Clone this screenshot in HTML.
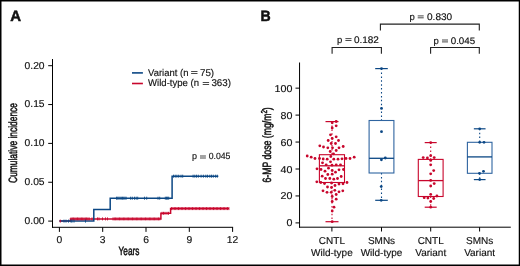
<!DOCTYPE html>
<html><head><meta charset="utf-8"><style>
html,body{margin:0;padding:0;background:#fff;}
body{width:520px;height:266px;overflow:hidden;}
svg{display:block;will-change:transform;font-family:"Liberation Sans", sans-serif;}
text{fill:#111111;stroke:#111111;stroke-width:0.15px;text-rendering:geometricPrecision;}
</style></head><body>
<svg width="520" height="266" viewBox="0 0 520 266">
<rect x="0" y="0" width="520" height="266" fill="#fff"/>
<text transform="translate(10.20 20.70)" font-size="15.00" text-anchor="start" font-weight="bold" style="stroke-width:0.50px">A</text>
<line x1="52.50" y1="59.00" x2="52.50" y2="227.80" stroke="#000" stroke-width="1.00"/>
<line x1="52.00" y1="227.30" x2="233.10" y2="227.30" stroke="#000" stroke-width="1.00"/>
<line x1="48.20" y1="65.70" x2="52.50" y2="65.70" stroke="#000" stroke-width="1.00"/>
<text transform="translate(44.60 68.50) scale(1.030 1)" font-size="10.00" text-anchor="end">0.20</text>
<line x1="48.20" y1="104.55" x2="52.50" y2="104.55" stroke="#000" stroke-width="1.00"/>
<text transform="translate(44.60 107.35) scale(1.030 1)" font-size="10.00" text-anchor="end">0.15</text>
<line x1="48.20" y1="143.40" x2="52.50" y2="143.40" stroke="#000" stroke-width="1.00"/>
<text transform="translate(44.60 146.20) scale(1.030 1)" font-size="10.00" text-anchor="end">0.10</text>
<line x1="48.20" y1="182.25" x2="52.50" y2="182.25" stroke="#000" stroke-width="1.00"/>
<text transform="translate(44.60 185.05) scale(1.030 1)" font-size="10.00" text-anchor="end">0.05</text>
<line x1="48.20" y1="221.10" x2="52.50" y2="221.10" stroke="#000" stroke-width="1.00"/>
<text transform="translate(44.60 223.90) scale(1.030 1)" font-size="10.00" text-anchor="end">0.00</text>
<line x1="59.40" y1="227.30" x2="59.40" y2="231.90" stroke="#000" stroke-width="1.00"/>
<text transform="translate(59.40 242.80) scale(1.030 1)" font-size="10.00" text-anchor="middle">0</text>
<line x1="102.70" y1="227.30" x2="102.70" y2="231.90" stroke="#000" stroke-width="1.00"/>
<text transform="translate(102.70 242.80) scale(1.030 1)" font-size="10.00" text-anchor="middle">3</text>
<line x1="146.00" y1="227.30" x2="146.00" y2="231.90" stroke="#000" stroke-width="1.00"/>
<text transform="translate(146.00 242.80) scale(1.030 1)" font-size="10.00" text-anchor="middle">6</text>
<line x1="189.30" y1="227.30" x2="189.30" y2="231.90" stroke="#000" stroke-width="1.00"/>
<text transform="translate(189.30 242.80) scale(1.030 1)" font-size="10.00" text-anchor="middle">9</text>
<line x1="232.60" y1="227.30" x2="232.60" y2="231.90" stroke="#000" stroke-width="1.00"/>
<text transform="translate(232.60 242.80) scale(1.030 1)" font-size="10.00" text-anchor="middle">12</text>
<text transform="translate(129.00 255.20) scale(0.690 1)" font-size="12.00" text-anchor="middle" style="stroke-width:0.50px">Years</text>
<text transform="translate(17.40 143.00) rotate(-90) scale(0.700 1)" font-size="12.00" text-anchor="middle" style="stroke-width:0.50px">Cumulative incidence</text>
<line x1="132.00" y1="72.90" x2="142.90" y2="72.90" stroke="#0b4784" stroke-width="1.60"/>
<line x1="132.00" y1="83.50" x2="142.90" y2="83.50" stroke="#c8062c" stroke-width="1.60"/>
<text transform="translate(148.10 75.60) scale(0.965 1)" font-size="9.80" text-anchor="start">Variant (n</text>
<rect x="191.10" y="71.00" width="6.40" height="1.00" fill="#4a4a4a"/>
<rect x="191.10" y="73.00" width="6.40" height="1.00" fill="#4a4a4a"/>
<text transform="translate(214.10 75.60)" font-size="9.80" text-anchor="end">75)</text>
<text transform="translate(148.10 86.00) scale(0.975 1)" font-size="9.80" text-anchor="start">Wild-type (n</text>
<rect x="202.70" y="82.00" width="6.40" height="1.00" fill="#4a4a4a"/>
<rect x="202.70" y="84.00" width="6.40" height="1.00" fill="#4a4a4a"/>
<text transform="translate(231.00 86.00)" font-size="9.80" text-anchor="end">363)</text>
<text transform="translate(191.90 159.40)" font-size="9.00" text-anchor="start">p</text>
<rect x="200.00" y="155.50" width="5.90" height="1.00" fill="#4a4a4a"/>
<rect x="200.00" y="157.50" width="5.90" height="1.00" fill="#4a4a4a"/>
<text transform="translate(230.40 159.40) scale(0.965 1)" font-size="9.00" text-anchor="end">0.045</text>
<polyline fill="none" stroke="#c8062c" stroke-width="1.5" points="59.4,221.1 70.5,221.1 70.5,218.9 160.9,218.9 160.9,213.3 170.6,213.3 170.6,208.6 229.0,208.6"/>
<polyline fill="none" stroke="#0b4784" stroke-width="1.5" points="59.4,221.1 93.8,221.1 93.8,209.5 110.2,209.5 110.2,198.2 172.1,198.2 172.1,176.2 218.3,176.2"/>
<line x1="60.30" y1="219.60" x2="60.30" y2="222.60" stroke="#c8062c" stroke-width="0.90"/>
<line x1="71.00" y1="217.40" x2="71.00" y2="220.40" stroke="#c8062c" stroke-width="0.90"/>
<line x1="72.30" y1="217.40" x2="72.30" y2="220.40" stroke="#c8062c" stroke-width="0.90"/>
<line x1="73.60" y1="217.40" x2="73.60" y2="220.40" stroke="#c8062c" stroke-width="0.90"/>
<line x1="74.90" y1="217.40" x2="74.90" y2="220.40" stroke="#c8062c" stroke-width="0.90"/>
<line x1="76.20" y1="217.40" x2="76.20" y2="220.40" stroke="#c8062c" stroke-width="0.90"/>
<line x1="77.50" y1="217.40" x2="77.50" y2="220.40" stroke="#c8062c" stroke-width="0.90"/>
<line x1="78.80" y1="217.40" x2="78.80" y2="220.40" stroke="#c8062c" stroke-width="0.90"/>
<line x1="80.10" y1="217.40" x2="80.10" y2="220.40" stroke="#c8062c" stroke-width="0.90"/>
<line x1="81.40" y1="217.40" x2="81.40" y2="220.40" stroke="#c8062c" stroke-width="0.90"/>
<line x1="82.70" y1="217.40" x2="82.70" y2="220.40" stroke="#c8062c" stroke-width="0.90"/>
<line x1="84.00" y1="217.40" x2="84.00" y2="220.40" stroke="#c8062c" stroke-width="0.90"/>
<line x1="85.30" y1="217.40" x2="85.30" y2="220.40" stroke="#c8062c" stroke-width="0.90"/>
<line x1="86.60" y1="217.40" x2="86.60" y2="220.40" stroke="#c8062c" stroke-width="0.90"/>
<line x1="87.90" y1="217.40" x2="87.90" y2="220.40" stroke="#c8062c" stroke-width="0.90"/>
<line x1="89.20" y1="217.40" x2="89.20" y2="220.40" stroke="#c8062c" stroke-width="0.90"/>
<line x1="92.00" y1="217.40" x2="92.00" y2="220.40" stroke="#c8062c" stroke-width="0.90"/>
<line x1="97.50" y1="217.40" x2="97.50" y2="220.40" stroke="#c8062c" stroke-width="0.90"/>
<line x1="99.00" y1="217.40" x2="99.00" y2="220.40" stroke="#c8062c" stroke-width="0.90"/>
<line x1="102.50" y1="217.40" x2="102.50" y2="220.40" stroke="#c8062c" stroke-width="0.90"/>
<line x1="105.50" y1="217.40" x2="105.50" y2="220.40" stroke="#c8062c" stroke-width="0.90"/>
<line x1="107.50" y1="217.40" x2="107.50" y2="220.40" stroke="#c8062c" stroke-width="0.90"/>
<line x1="113.00" y1="217.40" x2="113.00" y2="220.40" stroke="#c8062c" stroke-width="0.90"/>
<line x1="114.30" y1="217.40" x2="114.30" y2="220.40" stroke="#c8062c" stroke-width="0.90"/>
<line x1="115.60" y1="217.40" x2="115.60" y2="220.40" stroke="#c8062c" stroke-width="0.90"/>
<line x1="116.90" y1="217.40" x2="116.90" y2="220.40" stroke="#c8062c" stroke-width="0.90"/>
<line x1="118.20" y1="217.40" x2="118.20" y2="220.40" stroke="#c8062c" stroke-width="0.90"/>
<line x1="119.50" y1="217.40" x2="119.50" y2="220.40" stroke="#c8062c" stroke-width="0.90"/>
<line x1="120.80" y1="217.40" x2="120.80" y2="220.40" stroke="#c8062c" stroke-width="0.90"/>
<line x1="122.10" y1="217.40" x2="122.10" y2="220.40" stroke="#c8062c" stroke-width="0.90"/>
<line x1="123.40" y1="217.40" x2="123.40" y2="220.40" stroke="#c8062c" stroke-width="0.90"/>
<line x1="124.70" y1="217.40" x2="124.70" y2="220.40" stroke="#c8062c" stroke-width="0.90"/>
<line x1="126.00" y1="217.40" x2="126.00" y2="220.40" stroke="#c8062c" stroke-width="0.90"/>
<line x1="127.30" y1="217.40" x2="127.30" y2="220.40" stroke="#c8062c" stroke-width="0.90"/>
<line x1="128.60" y1="217.40" x2="128.60" y2="220.40" stroke="#c8062c" stroke-width="0.90"/>
<line x1="129.90" y1="217.40" x2="129.90" y2="220.40" stroke="#c8062c" stroke-width="0.90"/>
<line x1="131.20" y1="217.40" x2="131.20" y2="220.40" stroke="#c8062c" stroke-width="0.90"/>
<line x1="132.50" y1="217.40" x2="132.50" y2="220.40" stroke="#c8062c" stroke-width="0.90"/>
<line x1="133.80" y1="217.40" x2="133.80" y2="220.40" stroke="#c8062c" stroke-width="0.90"/>
<line x1="135.10" y1="217.40" x2="135.10" y2="220.40" stroke="#c8062c" stroke-width="0.90"/>
<line x1="136.40" y1="217.40" x2="136.40" y2="220.40" stroke="#c8062c" stroke-width="0.90"/>
<line x1="137.70" y1="217.40" x2="137.70" y2="220.40" stroke="#c8062c" stroke-width="0.90"/>
<line x1="139.00" y1="217.40" x2="139.00" y2="220.40" stroke="#c8062c" stroke-width="0.90"/>
<line x1="140.30" y1="217.40" x2="140.30" y2="220.40" stroke="#c8062c" stroke-width="0.90"/>
<line x1="141.60" y1="217.40" x2="141.60" y2="220.40" stroke="#c8062c" stroke-width="0.90"/>
<line x1="142.90" y1="217.40" x2="142.90" y2="220.40" stroke="#c8062c" stroke-width="0.90"/>
<line x1="144.20" y1="217.40" x2="144.20" y2="220.40" stroke="#c8062c" stroke-width="0.90"/>
<line x1="145.50" y1="217.40" x2="145.50" y2="220.40" stroke="#c8062c" stroke-width="0.90"/>
<line x1="146.80" y1="217.40" x2="146.80" y2="220.40" stroke="#c8062c" stroke-width="0.90"/>
<line x1="148.10" y1="217.40" x2="148.10" y2="220.40" stroke="#c8062c" stroke-width="0.90"/>
<line x1="149.40" y1="217.40" x2="149.40" y2="220.40" stroke="#c8062c" stroke-width="0.90"/>
<line x1="150.70" y1="217.40" x2="150.70" y2="220.40" stroke="#c8062c" stroke-width="0.90"/>
<line x1="152.00" y1="217.40" x2="152.00" y2="220.40" stroke="#c8062c" stroke-width="0.90"/>
<line x1="153.30" y1="217.40" x2="153.30" y2="220.40" stroke="#c8062c" stroke-width="0.90"/>
<line x1="154.60" y1="217.40" x2="154.60" y2="220.40" stroke="#c8062c" stroke-width="0.90"/>
<line x1="155.90" y1="217.40" x2="155.90" y2="220.40" stroke="#c8062c" stroke-width="0.90"/>
<line x1="157.20" y1="217.40" x2="157.20" y2="220.40" stroke="#c8062c" stroke-width="0.90"/>
<line x1="158.50" y1="217.40" x2="158.50" y2="220.40" stroke="#c8062c" stroke-width="0.90"/>
<line x1="159.80" y1="217.40" x2="159.80" y2="220.40" stroke="#c8062c" stroke-width="0.90"/>
<line x1="162.00" y1="211.80" x2="162.00" y2="214.80" stroke="#c8062c" stroke-width="0.90"/>
<line x1="163.50" y1="211.80" x2="163.50" y2="214.80" stroke="#c8062c" stroke-width="0.90"/>
<line x1="165.00" y1="211.80" x2="165.00" y2="214.80" stroke="#c8062c" stroke-width="0.90"/>
<line x1="167.00" y1="211.80" x2="167.00" y2="214.80" stroke="#c8062c" stroke-width="0.90"/>
<line x1="168.50" y1="211.80" x2="168.50" y2="214.80" stroke="#c8062c" stroke-width="0.90"/>
<line x1="171.50" y1="207.10" x2="171.50" y2="210.10" stroke="#c8062c" stroke-width="0.90"/>
<line x1="172.90" y1="207.10" x2="172.90" y2="210.10" stroke="#c8062c" stroke-width="0.90"/>
<line x1="174.30" y1="207.10" x2="174.30" y2="210.10" stroke="#c8062c" stroke-width="0.90"/>
<line x1="175.70" y1="207.10" x2="175.70" y2="210.10" stroke="#c8062c" stroke-width="0.90"/>
<line x1="177.10" y1="207.10" x2="177.10" y2="210.10" stroke="#c8062c" stroke-width="0.90"/>
<line x1="178.50" y1="207.10" x2="178.50" y2="210.10" stroke="#c8062c" stroke-width="0.90"/>
<line x1="179.90" y1="207.10" x2="179.90" y2="210.10" stroke="#c8062c" stroke-width="0.90"/>
<line x1="181.30" y1="207.10" x2="181.30" y2="210.10" stroke="#c8062c" stroke-width="0.90"/>
<line x1="182.70" y1="207.10" x2="182.70" y2="210.10" stroke="#c8062c" stroke-width="0.90"/>
<line x1="184.10" y1="207.10" x2="184.10" y2="210.10" stroke="#c8062c" stroke-width="0.90"/>
<line x1="185.50" y1="207.10" x2="185.50" y2="210.10" stroke="#c8062c" stroke-width="0.90"/>
<line x1="186.90" y1="207.10" x2="186.90" y2="210.10" stroke="#c8062c" stroke-width="0.90"/>
<line x1="188.30" y1="207.10" x2="188.30" y2="210.10" stroke="#c8062c" stroke-width="0.90"/>
<line x1="189.70" y1="207.10" x2="189.70" y2="210.10" stroke="#c8062c" stroke-width="0.90"/>
<line x1="191.10" y1="207.10" x2="191.10" y2="210.10" stroke="#c8062c" stroke-width="0.90"/>
<line x1="192.50" y1="207.10" x2="192.50" y2="210.10" stroke="#c8062c" stroke-width="0.90"/>
<line x1="193.90" y1="207.10" x2="193.90" y2="210.10" stroke="#c8062c" stroke-width="0.90"/>
<line x1="195.30" y1="207.10" x2="195.30" y2="210.10" stroke="#c8062c" stroke-width="0.90"/>
<line x1="196.70" y1="207.10" x2="196.70" y2="210.10" stroke="#c8062c" stroke-width="0.90"/>
<line x1="198.10" y1="207.10" x2="198.10" y2="210.10" stroke="#c8062c" stroke-width="0.90"/>
<line x1="199.50" y1="207.10" x2="199.50" y2="210.10" stroke="#c8062c" stroke-width="0.90"/>
<line x1="200.90" y1="207.10" x2="200.90" y2="210.10" stroke="#c8062c" stroke-width="0.90"/>
<line x1="202.30" y1="207.10" x2="202.30" y2="210.10" stroke="#c8062c" stroke-width="0.90"/>
<line x1="203.70" y1="207.10" x2="203.70" y2="210.10" stroke="#c8062c" stroke-width="0.90"/>
<line x1="205.10" y1="207.10" x2="205.10" y2="210.10" stroke="#c8062c" stroke-width="0.90"/>
<line x1="206.50" y1="207.10" x2="206.50" y2="210.10" stroke="#c8062c" stroke-width="0.90"/>
<line x1="207.90" y1="207.10" x2="207.90" y2="210.10" stroke="#c8062c" stroke-width="0.90"/>
<line x1="209.30" y1="207.10" x2="209.30" y2="210.10" stroke="#c8062c" stroke-width="0.90"/>
<line x1="210.70" y1="207.10" x2="210.70" y2="210.10" stroke="#c8062c" stroke-width="0.90"/>
<line x1="212.10" y1="207.10" x2="212.10" y2="210.10" stroke="#c8062c" stroke-width="0.90"/>
<line x1="213.50" y1="207.10" x2="213.50" y2="210.10" stroke="#c8062c" stroke-width="0.90"/>
<line x1="214.90" y1="207.10" x2="214.90" y2="210.10" stroke="#c8062c" stroke-width="0.90"/>
<line x1="216.30" y1="207.10" x2="216.30" y2="210.10" stroke="#c8062c" stroke-width="0.90"/>
<line x1="217.70" y1="207.10" x2="217.70" y2="210.10" stroke="#c8062c" stroke-width="0.90"/>
<line x1="219.10" y1="207.10" x2="219.10" y2="210.10" stroke="#c8062c" stroke-width="0.90"/>
<line x1="220.50" y1="207.10" x2="220.50" y2="210.10" stroke="#c8062c" stroke-width="0.90"/>
<line x1="221.90" y1="207.10" x2="221.90" y2="210.10" stroke="#c8062c" stroke-width="0.90"/>
<line x1="223.30" y1="207.10" x2="223.30" y2="210.10" stroke="#c8062c" stroke-width="0.90"/>
<line x1="224.70" y1="207.10" x2="224.70" y2="210.10" stroke="#c8062c" stroke-width="0.90"/>
<line x1="226.10" y1="207.10" x2="226.10" y2="210.10" stroke="#c8062c" stroke-width="0.90"/>
<line x1="227.50" y1="207.10" x2="227.50" y2="210.10" stroke="#c8062c" stroke-width="0.90"/>
<line x1="228.90" y1="207.10" x2="228.90" y2="210.10" stroke="#c8062c" stroke-width="0.90"/>
<line x1="64.00" y1="219.60" x2="64.00" y2="222.60" stroke="#0b4784" stroke-width="0.90"/>
<line x1="66.00" y1="219.60" x2="66.00" y2="222.60" stroke="#0b4784" stroke-width="0.90"/>
<line x1="68.50" y1="219.60" x2="68.50" y2="222.60" stroke="#0b4784" stroke-width="0.90"/>
<line x1="71.00" y1="219.60" x2="71.00" y2="222.60" stroke="#0b4784" stroke-width="0.90"/>
<line x1="72.00" y1="219.60" x2="72.00" y2="222.60" stroke="#0b4784" stroke-width="0.90"/>
<line x1="74.00" y1="219.60" x2="74.00" y2="222.60" stroke="#0b4784" stroke-width="0.90"/>
<line x1="85.50" y1="219.60" x2="85.50" y2="222.60" stroke="#0b4784" stroke-width="0.90"/>
<line x1="116.50" y1="196.70" x2="116.50" y2="199.70" stroke="#0b4784" stroke-width="0.90"/>
<line x1="117.70" y1="196.70" x2="117.70" y2="199.70" stroke="#0b4784" stroke-width="0.90"/>
<line x1="118.90" y1="196.70" x2="118.90" y2="199.70" stroke="#0b4784" stroke-width="0.90"/>
<line x1="120.10" y1="196.70" x2="120.10" y2="199.70" stroke="#0b4784" stroke-width="0.90"/>
<line x1="121.30" y1="196.70" x2="121.30" y2="199.70" stroke="#0b4784" stroke-width="0.90"/>
<line x1="122.50" y1="196.70" x2="122.50" y2="199.70" stroke="#0b4784" stroke-width="0.90"/>
<line x1="123.70" y1="196.70" x2="123.70" y2="199.70" stroke="#0b4784" stroke-width="0.90"/>
<line x1="124.90" y1="196.70" x2="124.90" y2="199.70" stroke="#0b4784" stroke-width="0.90"/>
<line x1="126.10" y1="196.70" x2="126.10" y2="199.70" stroke="#0b4784" stroke-width="0.90"/>
<line x1="130.60" y1="196.70" x2="130.60" y2="199.70" stroke="#0b4784" stroke-width="0.90"/>
<line x1="132.30" y1="196.70" x2="132.30" y2="199.70" stroke="#0b4784" stroke-width="0.90"/>
<line x1="134.50" y1="196.70" x2="134.50" y2="199.70" stroke="#0b4784" stroke-width="0.90"/>
<line x1="136.20" y1="196.70" x2="136.20" y2="199.70" stroke="#0b4784" stroke-width="0.90"/>
<line x1="137.70" y1="196.70" x2="137.70" y2="199.70" stroke="#0b4784" stroke-width="0.90"/>
<line x1="144.50" y1="196.70" x2="144.50" y2="199.70" stroke="#0b4784" stroke-width="0.90"/>
<line x1="146.70" y1="196.70" x2="146.70" y2="199.70" stroke="#0b4784" stroke-width="0.90"/>
<line x1="158.00" y1="196.70" x2="158.00" y2="199.70" stroke="#0b4784" stroke-width="0.90"/>
<line x1="159.70" y1="196.70" x2="159.70" y2="199.70" stroke="#0b4784" stroke-width="0.90"/>
<line x1="165.30" y1="196.70" x2="165.30" y2="199.70" stroke="#0b4784" stroke-width="0.90"/>
<line x1="166.50" y1="196.70" x2="166.50" y2="199.70" stroke="#0b4784" stroke-width="0.90"/>
<line x1="167.60" y1="196.70" x2="167.60" y2="199.70" stroke="#0b4784" stroke-width="0.90"/>
<line x1="168.70" y1="196.70" x2="168.70" y2="199.70" stroke="#0b4784" stroke-width="0.90"/>
<line x1="173.50" y1="174.70" x2="173.50" y2="177.70" stroke="#0b4784" stroke-width="0.90"/>
<line x1="175.20" y1="174.70" x2="175.20" y2="177.70" stroke="#0b4784" stroke-width="0.90"/>
<line x1="176.90" y1="174.70" x2="176.90" y2="177.70" stroke="#0b4784" stroke-width="0.90"/>
<line x1="178.70" y1="174.70" x2="178.70" y2="177.70" stroke="#0b4784" stroke-width="0.90"/>
<line x1="181.00" y1="174.70" x2="181.00" y2="177.70" stroke="#0b4784" stroke-width="0.90"/>
<line x1="182.70" y1="174.70" x2="182.70" y2="177.70" stroke="#0b4784" stroke-width="0.90"/>
<line x1="193.10" y1="174.70" x2="193.10" y2="177.70" stroke="#0b4784" stroke-width="0.90"/>
<line x1="194.80" y1="174.70" x2="194.80" y2="177.70" stroke="#0b4784" stroke-width="0.90"/>
<line x1="196.50" y1="174.70" x2="196.50" y2="177.70" stroke="#0b4784" stroke-width="0.90"/>
<line x1="198.30" y1="174.70" x2="198.30" y2="177.70" stroke="#0b4784" stroke-width="0.90"/>
<line x1="201.10" y1="174.70" x2="201.10" y2="177.70" stroke="#0b4784" stroke-width="0.90"/>
<line x1="203.40" y1="174.70" x2="203.40" y2="177.70" stroke="#0b4784" stroke-width="0.90"/>
<line x1="205.80" y1="174.70" x2="205.80" y2="177.70" stroke="#0b4784" stroke-width="0.90"/>
<line x1="207.50" y1="174.70" x2="207.50" y2="177.70" stroke="#0b4784" stroke-width="0.90"/>
<line x1="209.80" y1="174.70" x2="209.80" y2="177.70" stroke="#0b4784" stroke-width="0.90"/>
<line x1="211.50" y1="174.70" x2="211.50" y2="177.70" stroke="#0b4784" stroke-width="0.90"/>
<line x1="213.30" y1="174.70" x2="213.30" y2="177.70" stroke="#0b4784" stroke-width="0.90"/>
<line x1="215.60" y1="174.70" x2="215.60" y2="177.70" stroke="#0b4784" stroke-width="0.90"/>
<line x1="217.30" y1="174.70" x2="217.30" y2="177.70" stroke="#0b4784" stroke-width="0.90"/>
<text transform="translate(260.40 20.65) scale(0.940 1)" font-size="15.00" text-anchor="start" font-weight="bold" style="stroke-width:0.50px">B</text>
<line x1="299.55" y1="62.50" x2="299.55" y2="227.70" stroke="#000" stroke-width="1.00"/>
<line x1="299.05" y1="227.20" x2="510.80" y2="227.20" stroke="#000" stroke-width="1.00"/>
<line x1="295.50" y1="222.90" x2="299.55" y2="222.90" stroke="#000" stroke-width="1.00"/>
<text transform="translate(292.40 226.40) scale(1.070 1)" font-size="10.00" text-anchor="end">0</text>
<line x1="295.50" y1="195.95" x2="299.55" y2="195.95" stroke="#000" stroke-width="1.00"/>
<text transform="translate(292.40 199.45) scale(1.070 1)" font-size="10.00" text-anchor="end">20</text>
<line x1="295.50" y1="169.00" x2="299.55" y2="169.00" stroke="#000" stroke-width="1.00"/>
<text transform="translate(292.40 172.50) scale(1.070 1)" font-size="10.00" text-anchor="end">40</text>
<line x1="295.50" y1="142.05" x2="299.55" y2="142.05" stroke="#000" stroke-width="1.00"/>
<text transform="translate(292.40 145.55) scale(1.070 1)" font-size="10.00" text-anchor="end">60</text>
<line x1="295.50" y1="115.10" x2="299.55" y2="115.10" stroke="#000" stroke-width="1.00"/>
<text transform="translate(292.40 118.60) scale(1.070 1)" font-size="10.00" text-anchor="end">80</text>
<line x1="295.50" y1="88.15" x2="299.55" y2="88.15" stroke="#000" stroke-width="1.00"/>
<text transform="translate(292.40 91.65) scale(1.070 1)" font-size="10.00" text-anchor="end">100</text>
<text transform="translate(270.8 144.9) rotate(-90) scale(0.725 1)" font-size="12" text-anchor="middle" style="stroke-width:0.5px">6-MP dose (mg/m<tspan font-size="8.6" dy="-3.8">2</tspan><tspan dy="3.8">)</tspan></text>
<line x1="331.90" y1="227.20" x2="331.90" y2="231.50" stroke="#000" stroke-width="1.00"/>
<text transform="translate(331.90 243.90)" font-size="10.00" text-anchor="middle">CNTL</text>
<text transform="translate(331.90 256.00)" font-size="10.00" text-anchor="middle">Wild-type</text>
<line x1="381.50" y1="227.20" x2="381.50" y2="231.50" stroke="#000" stroke-width="1.00"/>
<text transform="translate(381.50 243.90)" font-size="10.00" text-anchor="middle">SMNs</text>
<text transform="translate(381.50 256.00)" font-size="10.00" text-anchor="middle">Wild-type</text>
<line x1="430.70" y1="227.20" x2="430.70" y2="231.50" stroke="#000" stroke-width="1.00"/>
<text transform="translate(430.70 243.90)" font-size="10.00" text-anchor="middle">CNTL</text>
<text transform="translate(430.70 256.00)" font-size="10.00" text-anchor="middle">Variant</text>
<line x1="479.60" y1="227.20" x2="479.60" y2="231.50" stroke="#000" stroke-width="1.00"/>
<text transform="translate(479.60 243.90)" font-size="10.00" text-anchor="middle">SMNs</text>
<text transform="translate(479.60 256.00)" font-size="10.00" text-anchor="middle">Variant</text>
<polyline fill="none" stroke="#222" stroke-width="1.1" points="332.1,53.8 332.1,47.5 381.4,47.5 381.4,53.8"/>
<polyline fill="none" stroke="#222" stroke-width="1.1" points="430.6,53.8 430.6,47.5 479.3,47.5 479.3,53.8"/>
<polyline fill="none" stroke="#222" stroke-width="1.1" points="380.4,30.5 380.4,24.1 479.3,24.1 479.3,30.5"/>
<text transform="translate(337.00 42.70)" font-size="9.50" text-anchor="start">p</text>
<rect x="345.40" y="38.10" width="6.10" height="1.00" fill="#4a4a4a"/>
<rect x="345.40" y="40.00" width="6.10" height="1.00" fill="#4a4a4a"/>
<text transform="translate(378.90 42.70) scale(1.050 1)" font-size="9.50" text-anchor="end">0.182</text>
<text transform="translate(433.60 43.70)" font-size="9.50" text-anchor="start">p</text>
<rect x="442.00" y="39.50" width="6.00" height="1.00" fill="#4a4a4a"/>
<rect x="442.00" y="41.40" width="6.00" height="1.00" fill="#4a4a4a"/>
<text transform="translate(475.20 43.70) scale(1.030 1)" font-size="9.50" text-anchor="end">0.045</text>
<text transform="translate(409.60 19.70)" font-size="9.50" text-anchor="start">p</text>
<rect x="417.70" y="15.40" width="6.00" height="1.00" fill="#4a4a4a"/>
<rect x="417.70" y="17.30" width="6.00" height="1.00" fill="#4a4a4a"/>
<text transform="translate(452.20 19.70) scale(1.060 1)" font-size="9.50" text-anchor="end">0.830</text>
<line x1="332.00" y1="121.60" x2="332.00" y2="154.70" stroke="#c8062c" stroke-width="1.10" stroke-dasharray="1.5 2.4"/>
<line x1="332.00" y1="182.50" x2="332.00" y2="221.70" stroke="#c8062c" stroke-width="1.10" stroke-dasharray="1.5 2.4"/>
<line x1="325.50" y1="121.60" x2="338.50" y2="121.60" stroke="#c8062c" stroke-width="1.20"/>
<line x1="325.50" y1="221.70" x2="338.50" y2="221.70" stroke="#c8062c" stroke-width="1.20"/>
<rect x="319.4" y="154.7" width="25.1" height="27.8" fill="none" stroke="#c8062c" stroke-width="1.1"/>
<line x1="319.45" y1="165.80" x2="344.55" y2="165.80" stroke="#c8062c" stroke-width="1.30"/>
<line x1="381.50" y1="68.60" x2="381.50" y2="120.50" stroke="#0b4784" stroke-width="1.10" stroke-dasharray="1.5 2.4"/>
<line x1="381.50" y1="173.00" x2="381.50" y2="200.30" stroke="#0b4784" stroke-width="1.10" stroke-dasharray="1.5 2.4"/>
<line x1="375.20" y1="68.60" x2="387.80" y2="68.60" stroke="#0b4784" stroke-width="1.20"/>
<line x1="375.20" y1="200.30" x2="387.80" y2="200.30" stroke="#0b4784" stroke-width="1.20"/>
<rect x="369.1" y="120.5" width="24.8" height="52.5" fill="none" stroke="#2f64a0" stroke-width="1.1"/>
<line x1="369.10" y1="158.30" x2="393.90" y2="158.30" stroke="#0b4784" stroke-width="1.30"/>
<line x1="430.70" y1="142.60" x2="430.70" y2="159.40" stroke="#c8062c" stroke-width="1.10" stroke-dasharray="1.5 2.4"/>
<line x1="430.70" y1="196.50" x2="430.70" y2="207.20" stroke="#c8062c" stroke-width="1.10" stroke-dasharray="1.5 2.4"/>
<line x1="424.70" y1="142.60" x2="436.70" y2="142.60" stroke="#c8062c" stroke-width="1.20"/>
<line x1="424.70" y1="207.20" x2="436.70" y2="207.20" stroke="#c8062c" stroke-width="1.20"/>
<rect x="418.3" y="159.4" width="24.8" height="37.1" fill="none" stroke="#c8062c" stroke-width="1.1"/>
<line x1="418.30" y1="180.60" x2="443.10" y2="180.60" stroke="#c8062c" stroke-width="1.30"/>
<line x1="479.70" y1="128.80" x2="479.70" y2="142.30" stroke="#0b4784" stroke-width="1.10" stroke-dasharray="1.5 2.4"/>
<line x1="479.70" y1="173.30" x2="479.70" y2="179.60" stroke="#0b4784" stroke-width="1.10" stroke-dasharray="1.5 2.4"/>
<line x1="473.85" y1="128.80" x2="485.55" y2="128.80" stroke="#0b4784" stroke-width="1.20"/>
<line x1="473.85" y1="179.60" x2="485.55" y2="179.60" stroke="#0b4784" stroke-width="1.20"/>
<rect x="467.4" y="142.3" width="24.6" height="31.0" fill="none" stroke="#2f64a0" stroke-width="1.1"/>
<line x1="467.40" y1="156.90" x2="492.00" y2="156.90" stroke="#0b4784" stroke-width="1.30"/>
<circle cx="336.2" cy="121.5" r="1.40" fill="#c8062c"/>
<circle cx="332.2" cy="122.8" r="1.40" fill="#c8062c"/>
<circle cx="336.2" cy="125.8" r="1.40" fill="#c8062c"/>
<circle cx="332.2" cy="128.0" r="1.40" fill="#c8062c"/>
<circle cx="330.5" cy="134.8" r="1.40" fill="#c8062c"/>
<circle cx="336.2" cy="136.8" r="1.40" fill="#c8062c"/>
<circle cx="332.2" cy="138.5" r="1.40" fill="#c8062c"/>
<circle cx="328.2" cy="140.5" r="1.40" fill="#c8062c"/>
<circle cx="338.5" cy="140.5" r="1.40" fill="#c8062c"/>
<circle cx="331.2" cy="143.5" r="1.40" fill="#c8062c"/>
<circle cx="335.5" cy="143.5" r="1.40" fill="#c8062c"/>
<circle cx="319.8" cy="145.8" r="1.40" fill="#c8062c"/>
<circle cx="323.5" cy="147.0" r="1.40" fill="#c8062c"/>
<circle cx="327.8" cy="147.8" r="1.40" fill="#c8062c"/>
<circle cx="332.5" cy="147.8" r="1.40" fill="#c8062c"/>
<circle cx="339.0" cy="147.8" r="1.40" fill="#c8062c"/>
<circle cx="343.2" cy="146.5" r="1.40" fill="#c8062c"/>
<circle cx="336.2" cy="150.5" r="1.40" fill="#c8062c"/>
<circle cx="330.2" cy="151.5" r="1.40" fill="#c8062c"/>
<circle cx="333.5" cy="153.8" r="1.40" fill="#c8062c"/>
<circle cx="330.8" cy="156.5" r="1.40" fill="#c8062c"/>
<circle cx="307.2" cy="156.0" r="1.40" fill="#c8062c"/>
<circle cx="311.2" cy="157.2" r="1.40" fill="#c8062c"/>
<circle cx="315.0" cy="158.5" r="1.40" fill="#c8062c"/>
<circle cx="319.5" cy="158.5" r="1.40" fill="#c8062c"/>
<circle cx="323.2" cy="159.0" r="1.40" fill="#c8062c"/>
<circle cx="327.2" cy="159.2" r="1.40" fill="#c8062c"/>
<circle cx="333.8" cy="159.2" r="1.40" fill="#c8062c"/>
<circle cx="338.0" cy="159.2" r="1.40" fill="#c8062c"/>
<circle cx="342.0" cy="158.8" r="1.40" fill="#c8062c"/>
<circle cx="346.0" cy="158.5" r="1.40" fill="#c8062c"/>
<circle cx="350.0" cy="158.5" r="1.40" fill="#c8062c"/>
<circle cx="354.2" cy="157.2" r="1.40" fill="#c8062c"/>
<circle cx="322.5" cy="162.8" r="1.40" fill="#c8062c"/>
<circle cx="330.5" cy="161.8" r="1.40" fill="#c8062c"/>
<circle cx="326.2" cy="164.8" r="1.40" fill="#c8062c"/>
<circle cx="332.0" cy="165.2" r="1.40" fill="#c8062c"/>
<circle cx="336.2" cy="164.8" r="1.40" fill="#c8062c"/>
<circle cx="340.5" cy="164.8" r="1.40" fill="#c8062c"/>
<circle cx="317.0" cy="168.8" r="1.40" fill="#c8062c"/>
<circle cx="321.0" cy="169.5" r="1.40" fill="#c8062c"/>
<circle cx="328.5" cy="168.2" r="1.40" fill="#c8062c"/>
<circle cx="332.2" cy="170.5" r="1.40" fill="#c8062c"/>
<circle cx="339.0" cy="169.8" r="1.40" fill="#c8062c"/>
<circle cx="343.5" cy="169.5" r="1.40" fill="#c8062c"/>
<circle cx="325.0" cy="171.2" r="1.40" fill="#c8062c"/>
<circle cx="335.5" cy="172.2" r="1.40" fill="#c8062c"/>
<circle cx="327.8" cy="174.5" r="1.40" fill="#c8062c"/>
<circle cx="332.2" cy="174.2" r="1.40" fill="#c8062c"/>
<circle cx="322.2" cy="176.2" r="1.40" fill="#c8062c"/>
<circle cx="341.2" cy="176.5" r="1.40" fill="#c8062c"/>
<circle cx="325.5" cy="178.5" r="1.40" fill="#c8062c"/>
<circle cx="329.8" cy="178.5" r="1.40" fill="#c8062c"/>
<circle cx="333.8" cy="179.2" r="1.40" fill="#c8062c"/>
<circle cx="337.5" cy="178.5" r="1.40" fill="#c8062c"/>
<circle cx="316.8" cy="181.8" r="1.40" fill="#c8062c"/>
<circle cx="347.0" cy="182.5" r="1.40" fill="#c8062c"/>
<circle cx="320.8" cy="182.5" r="1.40" fill="#c8062c"/>
<circle cx="324.5" cy="183.5" r="1.40" fill="#c8062c"/>
<circle cx="331.5" cy="183.0" r="1.40" fill="#c8062c"/>
<circle cx="339.0" cy="184.0" r="1.40" fill="#c8062c"/>
<circle cx="343.0" cy="183.8" r="1.40" fill="#c8062c"/>
<circle cx="335.0" cy="185.5" r="1.40" fill="#c8062c"/>
<circle cx="327.5" cy="187.0" r="1.40" fill="#c8062c"/>
<circle cx="331.5" cy="187.5" r="1.40" fill="#c8062c"/>
<circle cx="323.0" cy="190.8" r="1.40" fill="#c8062c"/>
<circle cx="327.0" cy="192.3" r="1.40" fill="#c8062c"/>
<circle cx="331.2" cy="192.3" r="1.40" fill="#c8062c"/>
<circle cx="334.8" cy="190.3" r="1.40" fill="#c8062c"/>
<circle cx="339.0" cy="191.8" r="1.40" fill="#c8062c"/>
<circle cx="342.8" cy="190.8" r="1.40" fill="#c8062c"/>
<circle cx="336.2" cy="194.5" r="1.40" fill="#c8062c"/>
<circle cx="332.2" cy="196.5" r="1.40" fill="#c8062c"/>
<circle cx="336.2" cy="199.2" r="1.40" fill="#c8062c"/>
<circle cx="332.2" cy="201.5" r="1.40" fill="#c8062c"/>
<circle cx="334.0" cy="207.2" r="1.40" fill="#c8062c"/>
<circle cx="332.2" cy="211.0" r="1.40" fill="#c8062c"/>
<circle cx="332.2" cy="221.7" r="1.40" fill="#c8062c"/>
<circle cx="381.5" cy="68.6" r="1.40" fill="#0b4784"/>
<circle cx="381.5" cy="108.4" r="1.40" fill="#0b4784"/>
<circle cx="381.5" cy="131.7" r="1.40" fill="#0b4784"/>
<circle cx="381.4" cy="159.8" r="1.40" fill="#0b4784"/>
<circle cx="385.3" cy="158.0" r="1.40" fill="#0b4784"/>
<circle cx="381.2" cy="186.6" r="1.40" fill="#0b4784"/>
<circle cx="381.2" cy="200.3" r="1.40" fill="#0b4784"/>
<circle cx="430.7" cy="142.6" r="1.40" fill="#c8062c"/>
<circle cx="430.7" cy="155.7" r="1.40" fill="#c8062c"/>
<circle cx="423.2" cy="157.6" r="1.40" fill="#c8062c"/>
<circle cx="427.4" cy="157.9" r="1.40" fill="#c8062c"/>
<circle cx="434.2" cy="157.6" r="1.40" fill="#c8062c"/>
<circle cx="430.7" cy="160.4" r="1.40" fill="#c8062c"/>
<circle cx="430.7" cy="164.8" r="1.40" fill="#c8062c"/>
<circle cx="433.7" cy="170.6" r="1.40" fill="#c8062c"/>
<circle cx="430.7" cy="173.8" r="1.40" fill="#c8062c"/>
<circle cx="430.7" cy="180.4" r="1.40" fill="#c8062c"/>
<circle cx="434.2" cy="183.6" r="1.40" fill="#c8062c"/>
<circle cx="430.7" cy="186.0" r="1.40" fill="#c8062c"/>
<circle cx="430.7" cy="194.4" r="1.40" fill="#c8062c"/>
<circle cx="436.9" cy="196.0" r="1.40" fill="#c8062c"/>
<circle cx="424.2" cy="197.7" r="1.40" fill="#c8062c"/>
<circle cx="427.9" cy="198.0" r="1.40" fill="#c8062c"/>
<circle cx="433.7" cy="198.5" r="1.40" fill="#c8062c"/>
<circle cx="430.7" cy="201.5" r="1.40" fill="#c8062c"/>
<circle cx="430.7" cy="207.2" r="1.40" fill="#c8062c"/>
<circle cx="479.7" cy="128.8" r="1.40" fill="#0b4784"/>
<circle cx="479.7" cy="142.3" r="1.40" fill="#0b4784"/>
<circle cx="484.0" cy="142.3" r="1.40" fill="#0b4784"/>
<circle cx="483.5" cy="171.3" r="1.40" fill="#0b4784"/>
<circle cx="479.5" cy="173.3" r="1.40" fill="#0b4784"/>
<circle cx="479.7" cy="179.6" r="1.40" fill="#0b4784"/>
<rect x="0" y="0" width="520" height="1.5" fill="#000"/><rect x="0" y="0" width="1.5" height="266" fill="#000"/><rect x="518.75" y="0" width="1.25" height="266" fill="#000"/><rect x="0" y="264.5" width="520" height="1.5" fill="#000"/>
</svg>
</body></html>
